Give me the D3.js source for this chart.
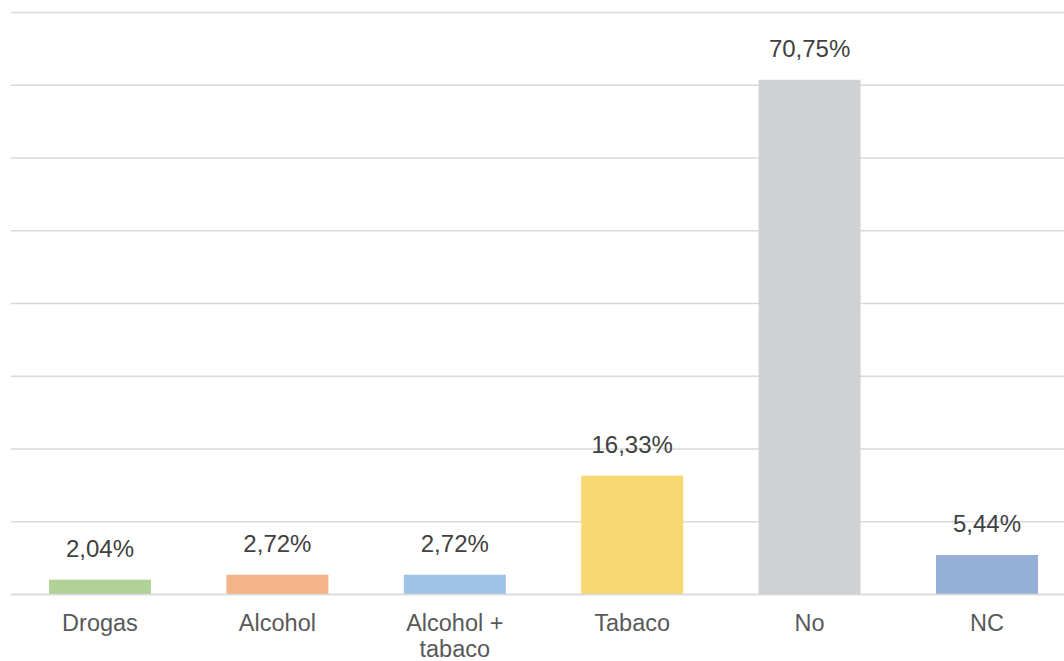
<!DOCTYPE html>
<html>
<head>
<meta charset="utf-8">
<script src="https://d3js.org/d3.v7.min.js"></script>
<style>
  html, body { margin: 0; padding: 0; background: #ffffff; }
  svg { display: block; font-family: "Liberation Sans", Arial, sans-serif; }
</style>
</head>
<body>
<svg id="chart" width="1064" height="661"></svg>
<script>
// Categories, values (%) and bar colours
const categories = ["Drogas", "Alcohol", "Alcohol + tabaco", "Tabaco", "No", "NC"];
const categoryLines = [["Drogas"], ["Alcohol"], ["Alcohol +", "tabaco"], ["Tabaco"], ["No"], ["NC"]];
const values = [2.04, 2.72, 2.72, 16.33, 70.75, 5.44];
const valueLabels = ["2,04%", "2,72%", "2,72%", "16,33%", "70,75%", "5,44%"];
const colors = ["#b0d297", "#f3b48a", "#9fc3e6", "#f8d870", "#d0d1d3", "#95afd7"];
const gridTicks = [0, 10, 20, 30, 40, 50, 60, 70, 80];

const svg = d3.select("#chart");

const x = d3.scaleBand()
  .domain(categories)
  .range([11.3, 1075.7])
  .paddingInner(0.425)
  .paddingOuter(0.2125);

const y = d3.scaleLinear()
  .domain([0, 80])
  .range([594.5, 12.5]);

// Horizontal gridlines
svg.append("g")
  .selectAll("line")
  .data(gridTicks)
  .join("line")
  .attr("x1", 11)
  .attr("x2", 1064)
  .attr("y1", d => y(d))
  .attr("y2", d => y(d))
  .attr("stroke", "#d9d9d9")
  .attr("stroke-width", 1.6);

// Bars
svg.append("g")
  .selectAll("rect")
  .data(values)
  .join("rect")
  .attr("x", (d, i) => x(categories[i]))
  .attr("width", x.bandwidth())
  .attr("y", d => y(d))
  .attr("height", d => y(0) - y(d))
  .attr("fill", (d, i) => colors[i]);

// Baseline drawn over the bars
svg.append("line")
  .attr("x1", 11).attr("x2", 1064)
  .attr("y1", y(0)).attr("y2", y(0))
  .attr("stroke", "#d9d9d9")
  .attr("stroke-width", 1.6);

// Value labels
svg.append("g")
  .selectAll("text")
  .data(values)
  .join("text")
  .attr("x", (d, i) => x(categories[i]) + x.bandwidth() / 2)
  .attr("y", d => y(d) - 23)
  .attr("text-anchor", "middle")
  .attr("font-size", 24)
  .attr("fill", "#404040")
  .text((d, i) => valueLabels[i]);

// Category labels
const cat = svg.append("g")
  .selectAll("text")
  .data(categories)
  .join("text")
  .attr("x", d => x(d) + x.bandwidth() / 2)
  .attr("y", 631)
  .attr("text-anchor", "middle")
  .attr("font-size", 23.5)
  .attr("fill", "#595959");

cat.selectAll("tspan")
  .data((d, i) => categoryLines[i])
  .join("tspan")
  .attr("x", function () { return d3.select(this.parentNode).attr("x"); })
  .attr("dy", (d, j) => j === 0 ? 0 : 25.5)
  .text(d => d);
</script>
</body>
</html>
